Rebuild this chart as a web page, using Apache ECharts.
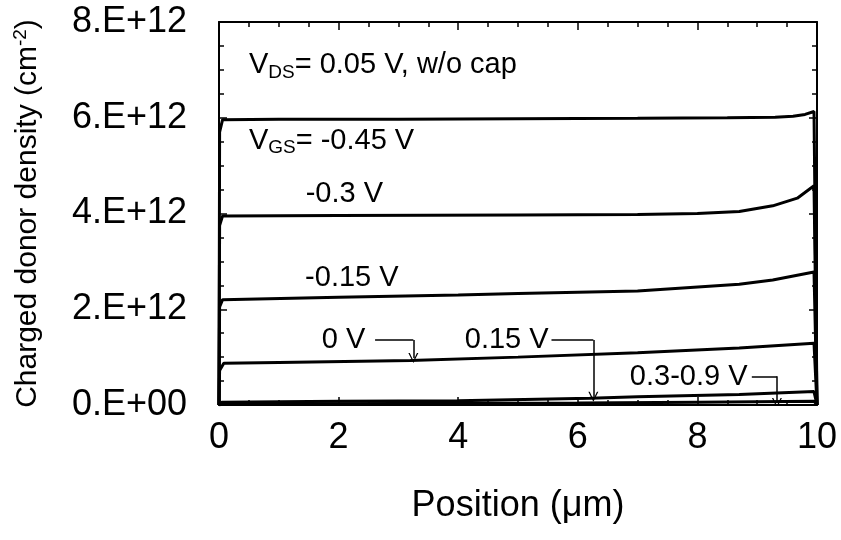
<!DOCTYPE html>
<html>
<head>
<meta charset="utf-8">
<title>Charged donor density vs position</title>
<script src="https://cdn.jsdelivr.net/npm/echarts@6/dist/echarts.min.js"></script>
<style>
  html, body { margin: 0; padding: 0; background: #fff; }
  #chart { width: 841px; height: 540px; }
</style>
</head>
<body>
<div id="chart"></div>
<script>
// Axis tick labels
const xTickLabels = ['0', '2', '4', '6', '8', '10'];
const yTickLabels = ['0.E+00', '2.E+12', '4.E+12', '6.E+12', '8.E+12'];

// Position (µm) and charged donor density (cm^-2) for each gate voltage
const posVgsM045 = [0, 0.01, 0.06, 1, 3, 5, 7, 8.5, 9.3, 9.6, 9.8, 9.95, 10];
const denVgsM045 = [0, 5.7e12, 5.96e12, 5.97e12, 5.97e12, 5.98e12, 5.99e12, 6.0e12, 6.01e12, 6.03e12, 6.07e12, 6.13e12, 0];

const posVgsM030 = [0, 0.01, 0.06, 2, 5, 7, 8, 8.7, 9.26, 9.67, 9.95, 10];
const denVgsM030 = [0, 3.75e12, 3.95e12, 3.96e12, 3.97e12, 3.98e12, 4.0e12, 4.04e12, 4.16e12, 4.32e12, 4.58e12, 0];

const posVgsM015 = [0, 0.01, 0.06, 2, 4, 5, 7, 8.7, 9.26, 9.95, 10];
const denVgsM015 = [0, 2.05e12, 2.2e12, 2.25e12, 2.3e12, 2.33e12, 2.38e12, 2.52e12, 2.61e12, 2.78e12, 0];

const posVgs000 = [0, 0.01, 0.08, 1, 3.2, 5, 7, 8.7, 9.95, 10];
const denVgs000 = [0, 0.72e12, 0.87e12, 0.89e12, 0.93e12, 1.0e12, 1.09e12, 1.19e12, 1.29e12, 0];

const posVgs015 = [0, 0.05, 2, 4, 6.2, 7, 8.7, 9.95, 10];
const denVgs015 = [0, 0.06e12, 0.08e12, 0.09e12, 0.14e12, 0.17e12, 0.22e12, 0.28e12, 0];

const posVgs030to090 = [0, 0.05, 3, 6, 8, 9.95, 10];
const denVgs030to090 = [0, 0.02e12, 0.03e12, 0.04e12, 0.06e12, 0.08e12, 0];

// Curve labels: [x, y, text]
const curveLabels = [
  [0.5, 7.1e12, '{t|V}{s|DS}{t|= 0.05 V, w/o cap}'],
  [0.5, 5.52e12, '{t|V}{s|GS}{t|= -0.45 V}'],
  [1.45, 4.4e12, '{t|-0.3 V}'],
  [1.44, 2.66e12, '{t|-0.15 V}'],
  [1.72, 1.36e12, '{t|0 V}'],
  [4.11, 1.36e12, '{t|0.15 V}'],
  [6.87, 0.58e12, '{t|0.3-0.9 V}']
];

// Leader lines (corner, then arrow tip on the curve)
const leaderZero = [[2.61, 1.36e12], [3.25, 1.36e12], [3.25, 0.98e12]];
const leader015 = [[5.56, 1.36e12], [6.26, 1.36e12], [6.26, 0.17e12]];
const leader030 = [[8.91, 0.6e12], [9.33, 0.6e12], [9.33, 0.04e12]];
const leaders = [leaderZero, leader015, leader030];

const FONT = 'Liberation Sans, Arial, sans-serif';
// Open "V" arrowhead, tip at the top of the symbol box
const OPEN_ARROW = 'path://M5,0 L10,10 L8.6,10 L5,2.6 L1.4,10 L0,10 Z';

function pairs(xs, ys) {
  return xs.map((x, i) => [x, ys[i]]);
}

function curve(name, xs, ys) {
  return {
    name: name,
    type: 'line',
    data: pairs(xs, ys),
    showSymbol: false,
    symbol: 'none',
    smooth: false,
    lineStyle: { color: '#000', width: 3 },
    z: 3
  };
}

const frameAxisCommon = {
  min: 0,
  axisLine: { show: true, onZero: false, lineStyle: { color: '#000', width: 2 } },
  axisTick: { show: true, inside: true, length: 8, lineStyle: { color: '#000', width: 1.5 } },
  minorTick: { show: true, splitNumber: 4, length: 5, lineStyle: { color: '#000', width: 1.5 } },
  splitLine: { show: false },
  minorSplitLine: { show: false }
};

const chart = echarts.init(document.getElementById('chart'), null, { renderer: 'canvas' });

chart.setOption({
  animation: false,
  backgroundColor: '#fff',
  grid: { left: 219, right: 24, top: 22, bottom: 135 },
  xAxis: [
    Object.assign({}, frameAxisCommon, {
      type: 'value', position: 'bottom', max: 10, interval: 2,
      name: 'Position (\u03bcm)', nameLocation: 'middle', nameGap: 83,
      nameTextStyle: { fontSize: 36, fontFamily: FONT, color: '#000' },
      axisLabel: {
        margin: 15, fontSize: 36, fontFamily: FONT, color: '#000',
        formatter: (v) => xTickLabels[Math.round(v / 2)]
      }
    }),
    Object.assign({}, frameAxisCommon, {
      type: 'value', position: 'top', max: 10, interval: 2,
      axisLabel: { show: false }
    })
  ],
  yAxis: [
    Object.assign({}, frameAxisCommon, {
      type: 'value', position: 'left', max: 8e12, interval: 2e12,
      name: '{n|Charged donor density (cm}{p|-2}{n|)}',
      nameLocation: 'middle', nameGap: 174,
      nameTextStyle: {
        rich: {
          n: { fontSize: 30, fontFamily: FONT, color: '#000', lineHeight: 34 },
          p: { fontSize: 19, fontFamily: FONT, color: '#000', lineHeight: 20, verticalAlign: 'top' }
        }
      },
      axisLabel: {
        margin: 32, fontSize: 36, fontFamily: FONT, color: '#000',
        formatter: (v) => yTickLabels[Math.round(v / 2e12)]
      }
    }),
    Object.assign({}, frameAxisCommon, {
      type: 'value', position: 'right', max: 8e12, interval: 2e12,
      axisLabel: { show: false }
    })
  ],
  series: [
    curve('-0.45 V', posVgsM045, denVgsM045),
    curve('-0.3 V', posVgsM030, denVgsM030),
    curve('-0.15 V', posVgsM015, denVgsM015),
    curve('0 V', posVgs000, denVgs000),
    curve('0.15 V', posVgs015, denVgs015),
    curve('0.3-0.9 V', posVgs030to090, denVgs030to090),
    {
      // horizontal part of each leader
      type: 'lines',
      coordinateSystem: 'cartesian2d',
      symbol: ['none', 'none'],
      lineStyle: { color: '#000', width: 1.5, opacity: 1 },
      data: leaders.map((l) => ({ coords: [l[0], l[1]] })),
      z: 4
    },
    {
      // vertical part with the arrowhead on the curve
      type: 'lines',
      coordinateSystem: 'cartesian2d',
      symbol: ['none', OPEN_ARROW],
      symbolSize: [9, 10],
      lineStyle: { color: '#000', width: 1.5, opacity: 1 },
      data: leaders.map((l) => ({ coords: [l[1], l[2]] })),
      z: 4
    },
    {
      type: 'scatter',
      symbolSize: 0,
      silent: true,
      itemStyle: { color: '#000' },
      data: curveLabels.map((d) => ({ value: [d[0], d[1]], label: { formatter: d[2] } })),
      label: {
        show: true,
        position: 'right',
        distance: 0,
        color: '#000',
        opacity: 1,
        textBorderWidth: 0,
        rich: {
          t: { fontSize: 29, fontFamily: FONT, color: '#000', lineHeight: 34 },
          s: { fontSize: 19, fontFamily: FONT, color: '#000', lineHeight: 19, verticalAlign: 'bottom' }
        }
      },
      emphasis: { disabled: true },
      z: 5
    }
  ]
});
</script>
</body>
</html>
